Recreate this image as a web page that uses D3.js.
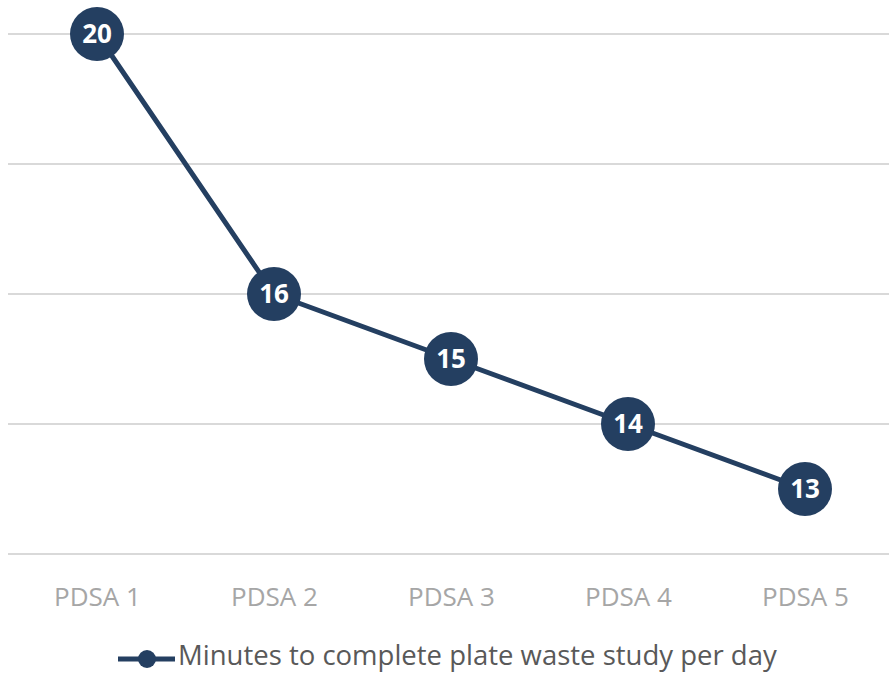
<!DOCTYPE html>
<html>
<head>
<meta charset="utf-8">
<script src="https://cdn.jsdelivr.net/npm/d3@7"></script>
<style>
  body { margin: 0; background: #fff; }
  svg { display: block; font-family: "Open Sans", "Noto Sans", sans-serif; }
</style>
</head>
<body>
<div id="viz"></div>
<script>
const categories = ["PDSA 1", "PDSA 2", "PDSA 3", "PDSA 4", "PDSA 5"];
const minutes = [20, 16, 15, 14, 13];
const yTicks = [12, 14, 16, 18, 20];
const seriesName = "Minutes to complete plate waste study per day";

const width = 889, height = 673;
const color = "#243f61";

const svg = d3.select("#viz")
    .append("svg")
    .attr("width", width)
    .attr("height", height);

const x = d3.scalePoint()
    .domain(categories)
    .range([97, 805]);

const y = d3.scaleLinear()
    .domain([12, 20])
    .range([554, 34]);

// gridlines
svg.append("g")
    .selectAll("line")
    .data(yTicks)
    .enter()
    .append("line")
    .attr("x1", 8)
    .attr("x2", 889)
    .attr("y1", d => y(d))
    .attr("y2", d => y(d))
    .attr("stroke", "#d9d9d9")
    .attr("stroke-width", 2);

// x axis labels
const xAxis = d3.axisBottom(x).tickSize(0).tickPadding(0);
const gx = svg.append("g")
    .attr("transform", "translate(0,606)")
    .call(xAxis);
gx.select(".domain").remove();
gx.selectAll("text")
    .attr("dy", 0)
    .attr("fill", "#a6a6a6")
    .attr("font-size", 26)
    .attr("font-family", "'Open Sans', sans-serif");

// line
const line = d3.line()
    .x((d, i) => x(categories[i]))
    .y(d => y(d));

svg.append("path")
    .datum(minutes)
    .attr("d", line)
    .attr("fill", "none")
    .attr("stroke", color)
    .attr("stroke-width", 5);

// markers
const pts = svg.append("g")
    .selectAll("g")
    .data(minutes)
    .enter()
    .append("g")
    .attr("transform", (d, i) => `translate(${x(categories[i])},${y(d)})`);

pts.append("circle")
    .attr("r", 27)
    .attr("fill", color);

pts.append("text")
    .text(d => d)
    .attr("text-anchor", "middle")
    .attr("dy", "0.36em")
    .attr("fill", "#fff")
    .attr("font-size", 26)
    .attr("font-weight", "bold");

// legend
const legend = svg.append("g").attr("transform", "translate(0,659)");
legend.append("line")
    .attr("x1", 118).attr("x2", 175)
    .attr("y1", 0).attr("y2", 0)
    .attr("stroke", color)
    .attr("stroke-width", 5);
legend.append("circle")
    .attr("cx", 147).attr("cy", 0)
    .attr("r", 9)
    .attr("fill", color);
legend.append("text")
    .attr("x", 178)
    .attr("y", 6)
    .attr("fill", "#595959")
    .attr("font-size", 27.5)
    .text(seriesName);
</script>
</body>
</html>
